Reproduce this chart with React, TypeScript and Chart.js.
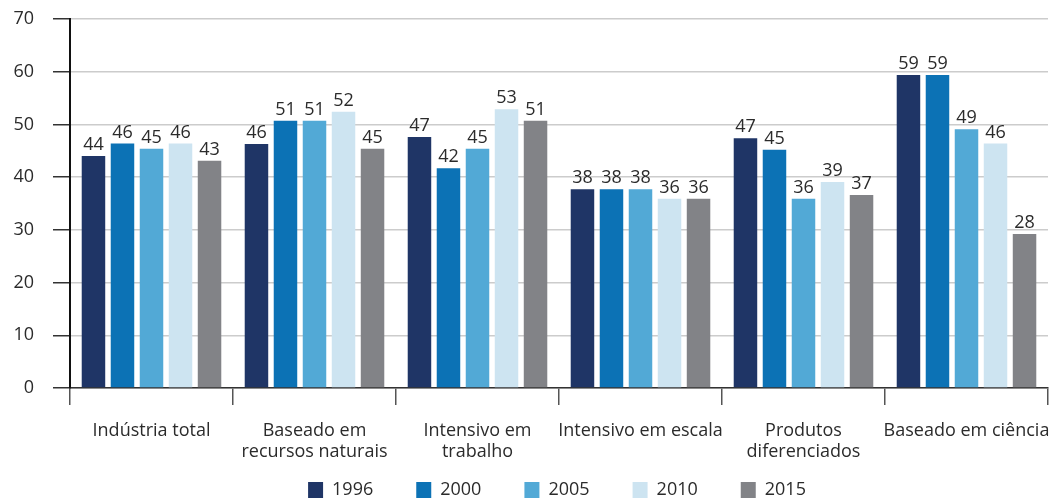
import React, { useEffect, useRef } from "react";
import { Chart, registerables } from "chart.js";

Chart.register(...registerables);

const categories = [
  ["Indústria total"],
  ["Baseado em", "recursos naturais"],
  ["Intensivo em", "trabalho"],
  ["Intensivo em escala"],
  ["Produtos", "diferenciados"],
  ["Baseado em ciência"],
];

const years = ["1996", "2000", "2005", "2010", "2015"];

const values1996 = [44.0, 46.3, 47.6, 37.7, 47.4, 59.4];
const values2000 = [46.4, 50.7, 41.7, 37.7, 45.2, 59.4];
const values2005 = [45.4, 50.7, 45.4, 37.7, 35.9, 49.1];
const values2010 = [46.4, 52.4, 52.9, 35.9, 39.1, 46.4];
const values2015 = [43.1, 45.4, 50.7, 35.9, 36.6, 29.2];

const labels1996 = ["44", "46", "47", "38", "47", "59"];
const labels2000 = ["46", "51", "42", "38", "45", "59"];
const labels2005 = ["45", "51", "45", "38", "36", "49"];
const labels2010 = ["46", "52", "53", "36", "39", "46"];
const labels2015 = ["43", "45", "51", "36", "37", "28"];

const colors = ["#1f3566", "#0c72b5", "#52a9d6", "#cde4f1", "#828387"];

const yTicks = [0, 10, 20, 30, 40, 50, 60, 70];

const FONT = "'Open Sans', 'Noto Sans', sans-serif";

export default function App() {
  const ref = useRef<HTMLCanvasElement | null>(null);

  useEffect(() => {
    if (!ref.current) return;
    const seriesValues = [values1996, values2000, values2005, values2010, values2015];
    const seriesLabels = [labels1996, labels2000, labels2005, labels2010, labels2015];

    const valueLabels = {
      id: "valueLabels",
      afterDatasetsDraw(chart: any) {
        const ctx = chart.ctx;
        ctx.save();
        ctx.font = `18px ${FONT}`;
        ctx.fillStyle = "#2b2b2b";
        ctx.textAlign = "center";
        ctx.textBaseline = "bottom";
        chart.data.datasets.forEach((ds: any, di: number) => {
          const meta = chart.getDatasetMeta(di);
          meta.data.forEach((bar: any, i: number) => {
            ctx.fillText(seriesLabels[di][i], bar.x, bar.y - 2);
          });
        });
        ctx.restore();
      },
    };

    const legendShift = {
      id: "legendShift",
      afterLayout(chart: any) {
        const lg = chart.legend;
        if (lg) {
          lg.left += 33;
          lg.right += 33;
          lg.top -= 41;
        }
      },
    };

    const chart = new Chart(ref.current, {
      type: "bar",
      data: {
        labels: categories,
        datasets: years.map((y, i) => ({
          label: y,
          data: seriesValues[i],
          backgroundColor: colors[i],
          borderWidth: 0,
          categoryPercentage: 0.89,
          barPercentage: 0.81,
        })),
      },
      options: {
        animation: false,
        responsive: false,
        maintainAspectRatio: false,
        layout: { padding: { top: 19, right: 11, left: 0, bottom: 0 } },
        plugins: {
          tooltip: { enabled: false },
          legend: {
            position: "bottom",
            maxHeight: 20,
            labels: {
              font: { family: FONT, size: 18 },
              color: "#2b2b2b",
              boxWidth: 15,
              boxHeight: 16,
              padding: 43,
            },
          },
        },
        scales: {
          x: {
            offset: true,
            grid: {
              drawOnChartArea: false,
              tickLength: 17,
              tickColor: "#555",
              lineWidth: 1.5,
            },
            border: { color: "#333", width: 1.5 },
            ticks: {
              font: { family: FONT, size: 18, lineHeight: 1.17 },
              color: "#2b2b2b",
              padding: 15,
              maxRotation: 0,
              autoSkip: false,
            },
            afterFit: (s: any) => {
              s.height = 91;
              s.paddingLeft = 0;
              s.paddingRight = 0;
            },
          },
          y: {
            min: 0,
            max: 70,
            afterBuildTicks: (s: any) => {
              s.ticks = yTicks.map((v) => ({ value: v }));
            },
            grid: {
              color: "#cccccc",
              lineWidth: 1.5,
              tickLength: 17,
              tickColor: "#333",
            },
            border: { color: "#111", width: 2 },
            ticks: {
              font: { family: FONT, size: 18 },
              color: "#2b2b2b",
              padding: 19,
            },
            afterFit: (s: any) => {
              s.width = 70;
              s.paddingTop = 10;
              s.paddingBottom = 10;
            },
          },
        },
      },
      plugins: [valueLabels, legendShift],
    });
    return () => chart.destroy();
  }, []);

  return (
    <div style={{ position: "absolute", left: 0, top: 0, width: 1059, height: 499 }}>
      <canvas ref={ref} width={1059} height={499} style={{ width: 1059, height: 499 }} />
    </div>
  );
}
